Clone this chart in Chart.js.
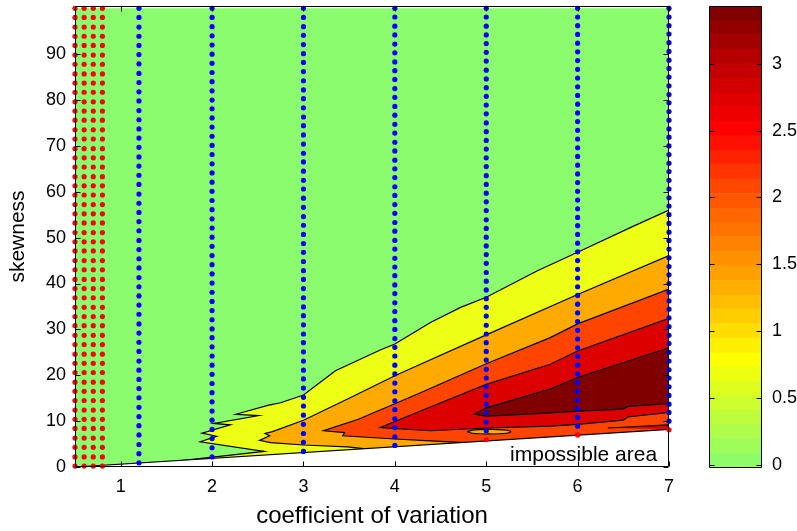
<!DOCTYPE html>
<html>
<head>
<meta charset="utf-8">
<script src="https://cdn.jsdelivr.net/npm/chart.js@4.4.0/dist/chart.umd.min.js"></script>
<style>
  html, body { margin: 0; padding: 0; background: #fff; }
  #wrap { position: relative; width: 797px; height: 531px; overflow: hidden; }
  #main { position: absolute; left: 0; top: 0; }
  #cbar { position: absolute; left: 697px; top: 0; }
</style>
</head>
<body>
<div id="wrap">
  <canvas id="main" width="700" height="531"></canvas>
  <canvas id="cbar" width="100" height="531"></canvas>
</div>
<script>
// Tick labels
const cvTicks = [1, 2, 3, 4, 5, 6, 7];
const skewTicks = [0, 10, 20, 30, 40, 50, 60, 70, 80, 90];
const cbarTicks = [0, 0.5, 1, 1.5, 2, 2.5, 3];

// Contour regions (cv, skewness), each is the area above a level
const level0 = [[0.5, 0], [0.5, 100], [7, 100], [7, 0]];
const level05 = [[7.0, 56.0], [6.6, 52.4], [6.0, 46.8], [5.56, 42.8], [5.0, 37.0], [4.72, 34.8], [4.39, 31.5],
  [4.0, 26.8], [3.84, 25.5], [3.35, 21.0], [3.0, 15.7], [2.75, 14.0], [2.62, 13.5], [2.26, 11.5], [2.51, 11.2],
  [2.02, 9.5], [2.2, 9.2], [1.89, 7.4], [2.05, 6.7], [1.87, 5.5], [2.57, 3.4], [1.62, 1.3], [1.62, 0], [7, 0]];
const level10 = [[7.0, 46.1], [6.0, 37.6], [5.0, 28.8], [4.28, 22.4], [4.0, 19.9], [3.5, 15.0], [3.0, 10.2],
  [2.66, 7.7], [2.58, 7.3], [2.63, 6.8], [2.52, 5.8], [2.64, 5.3], [3.0, 4.8], [3.48, 4.4], [3.65, 4.0],
  [3.65, 0], [7, 0]];
const level15 = [[7.0, 38.8], [6.0, 31.2], [5.7, 28.2], [5.0, 22.5], [4.28, 16.2], [4.0, 13.8], [3.6, 10.4],
  [3.22, 7.9], [3.45, 7.5], [3.43, 6.8], [4.0, 6.1], [4.39, 5.7], [4.75, 5.3], [4.75, 0], [7, 0]];
const level20 = [[7.0, 32.4], [6.0, 25.3], [5.7, 22.4], [5.0, 18.0], [4.28, 12.2], [3.84, 8.6], [4.39, 7.9],
  [5.0, 8.5], [5.7, 8.9], [6.0, 9.3], [6.5, 10.2], [6.55, 10.9], [7.0, 11.9]];
const level20b = [[6.33, 8.5], [7.0, 9.2], [7.0, 8.3]];
const level30 = [[7.0, 26.0], [6.0, 19.5], [5.7, 17.0], [5.0, 12.9], [4.87, 11.5], [5.0, 11.1], [5.6, 11.7],
  [6.0, 12.2], [6.5, 12.6], [6.55, 13.2], [7.0, 13.8]];
const dipLow = [[4.79, 7.7], [4.87, 8.1], [5.03, 8.2], [5.19, 8.1], [5.27, 7.7], [5.19, 7.3], [5.03, 7.2],
  [4.87, 7.3], [4.79, 7.7]];
const impossible = [[0.5, 0], [7, 8.2], [7, 0]];
const boundary = [[0.5, 0], [7, 8.2]];

// Sample points (red = small cv columns, blue = larger cv columns)
const redCols = [0.5, 0.6, 0.7, 0.8];
const skewRed = [0.2, 2.2, 4.3, 6.3, 8.4, 10.4, 12.4, 14.5, 16.5, 18.5, 20.6, 22.6, 24.6, 26.7, 28.7, 30.8, 32.8,
  34.8, 36.9, 38.9, 40.9, 43.0, 45.0, 47.1, 49.1, 51.1, 53.2, 55.2, 57.2, 59.3, 61.3, 63.3, 65.4, 67.4, 69.4,
  71.5, 73.5, 75.6, 77.6, 79.6, 81.7, 83.7, 85.7, 87.8, 89.8, 91.9, 93.9, 95.9, 98.0, 100.0];
const skewAt12 = [0.9, 2.9, 4.9, 7.0, 9.0, 11.0, 13.0, 15.1, 17.1, 19.1, 21.1, 23.1, 25.2, 27.2, 29.2, 31.2,
  33.3, 35.3, 37.3, 39.3, 41.3, 43.4, 45.4, 47.4, 49.4, 51.5, 53.5, 55.5, 57.5, 59.5, 61.6, 63.6, 65.6, 67.6,
  69.7, 71.7, 73.7, 75.7, 77.7, 79.8, 81.8, 83.8, 85.8, 87.9, 89.9, 91.9, 93.9, 95.9, 98.0, 100];
const skewAt2 = [2.2, 4.2, 6.2, 8.2, 10.2, 12.2, 14.2, 16.2, 18.2, 20.2, 22.2, 24.2, 26.2, 28.2, 30.1, 32.1,
  34.1, 36.1, 38.1, 40.1, 42.1, 44.1, 46.1, 48.1, 50.1, 52.1, 54.1, 56.1, 58.1, 60.1, 62.1, 64.1, 66.1, 68.1,
  70.1, 72.1, 74.1, 76.1, 78.1, 80.0, 82.0, 84.0, 86.0, 88.0, 90.0, 92.0, 94.0, 96.0, 98.0, 100];
const skewAt3 = [3.4, 5.4, 7.3, 9.3, 11.3, 13.3, 15.2, 17.2, 19.2, 21.1, 23.1, 25.1, 27.1, 29.0, 31.0, 33.0,
  34.9, 36.9, 38.9, 40.9, 42.8, 44.8, 46.8, 48.7, 50.7, 52.7, 54.6, 56.6, 58.6, 60.6, 62.5, 64.5, 66.5, 68.4,
  70.4, 72.4, 74.4, 76.3, 78.3, 80.3, 82.2, 84.2, 86.2, 88.2, 90.1, 92.1, 94.1, 96.0, 98.0, 100];
const skewAt4 = [4.7, 6.6, 8.6, 10.5, 12.5, 14.4, 16.4, 18.3, 20.3, 22.2, 24.2, 26.1, 28.0, 30.0, 31.9, 33.9,
  35.8, 37.8, 39.7, 41.7, 43.6, 45.5, 47.5, 49.4, 51.4, 53.3, 55.3, 57.2, 59.2, 61.1, 63.1, 65.0, 66.9, 68.9,
  70.8, 72.8, 74.7, 76.7, 78.6, 80.6, 82.5, 84.5, 86.4, 88.3, 90.3, 92.2, 94.2, 96.1, 98.1, 100];
const skewAt5 = [7.9, 9.8, 11.8, 13.7, 15.6, 17.5, 19.4, 21.3, 23.3, 25.2, 27.1, 29.0, 30.9, 32.9, 34.8, 36.7,
  38.6, 40.5, 42.4, 44.4, 46.3, 48.2, 50.1, 52.0, 53.9, 55.9, 57.8, 59.7, 61.6, 63.5, 65.5, 67.4, 69.3, 71.2,
  73.1, 75.0, 77.0, 78.9, 80.8, 82.7, 84.6, 86.5, 88.5, 90.4, 92.3, 94.2, 96.1, 98.1, 100];
const skewAt6 = [8.9, 10.8, 12.7, 14.6, 16.5, 18.4, 20.3, 22.2, 24.1, 26.0, 27.9, 29.8, 31.7, 33.6, 35.5, 37.4,
  39.3, 41.2, 43.1, 45.0, 46.9, 48.8, 50.7, 52.6, 54.4, 56.3, 58.2, 60.1, 62.0, 63.9, 65.8, 67.7, 69.6, 71.5,
  73.4, 75.3, 77.2, 79.1, 81.0, 82.9, 84.8, 86.7, 88.6, 90.5, 92.4, 94.3, 96.2, 98.1, 100];
const skewAt7 = [10.0, 11.9, 13.7, 15.6, 17.5, 19.4, 21.2, 23.1, 25.0, 26.9, 28.7, 30.6, 32.5, 34.4, 36.2, 38.1,
  40.0, 41.9, 43.7, 45.6, 47.5, 49.4, 51.2, 53.1, 55.0, 56.9, 58.7, 60.6, 62.5, 64.4, 66.2, 68.1, 70.0, 71.9,
  73.7, 75.6, 77.5, 79.4, 81.2, 83.1, 85.0, 86.9, 88.7, 90.6, 92.5, 94.4, 96.2, 98.1, 100];
const redBottom = [[5, 6.0], [6, 7.0], [7, 8.1]];

// Colorbar bands
const cbarEdges = [-0.02, 0.09, 0.20, 0.30, 0.41, 0.52, 0.63, 0.74, 0.84, 0.95, 1.06, 1.17, 1.27, 1.38, 1.49,
  1.60, 1.71, 1.81, 1.92, 2.03, 2.14, 2.25, 2.35, 2.46, 2.57, 2.68, 2.78, 2.89, 3.00, 3.11, 3.22, 3.32, 3.43];

// Colours
const GREEN = 'rgb(138,252,110)';
const YELLOW = 'rgb(238,255,22)';
const ORANGE = 'rgb(255,170,0)';
const ORANGERED = 'rgb(255,68,0)';
const RED = 'rgb(221,0,0)';
const DARKRED = 'rgb(128,0,0)';
const cmapStops = [
  [-0.02, [134, 252, 112]], [0.8, [255, 255, 0]], [1.0, [255, 222, 0]], [1.5, [255, 150, 0]],
  [2.0, [255, 85, 0]], [2.5, [255, 0, 0]], [3.0, [190, 0, 0]], [3.43, [120, 0, 0]]
];

const FONT = "'Liberation Sans', Arial, Helvetica, sans-serif";
Chart.defaults.font.family = FONT;
Chart.defaults.color = '#000';

function toXY(points) {
  return points.map(p => ({x: p[0], y: p[1]}));
}

function region(points, color, order, extra) {
  return Object.assign({
    data: toXY(points),
    showLine: true,
    fill: 'shape',
    backgroundColor: color,
    borderColor: '#000',
    borderWidth: 1.2,
    pointRadius: 0,
    pointHoverRadius: 0,
    tension: 0,
    order: order
  }, extra || {});
}

function column(cv, skews) {
  return skews.map(s => ({x: cv, y: s}));
}

function dots(points, color) {
  return {
    data: points,
    showLine: false,
    pointRadius: 2.6,
    pointBorderWidth: 0,
    backgroundColor: color,
    borderColor: color,
    clip: false,
    order: 0
  };
}

let redPoints = [];
redCols.forEach(cv => { redPoints = redPoints.concat(column(cv, skewRed)); });
redPoints = redPoints.concat(toXY(redBottom));
const bluePoints = [].concat(
  column(1.2, skewAt12), column(2, skewAt2), column(3, skewAt3), column(4, skewAt4),
  column(5, skewAt5), column(6, skewAt6), column(7, skewAt7)
);

// Inward ticks and a full box, as in the original figure
function boxTicksPlugin(tickLen) {
  return {
    id: 'boxTicks',
    afterDraw(chart) {
      const {ctx, chartArea: a} = chart;
      const L = Math.round(a.left) + 0.5, R = Math.round(a.right) - 0.5;
      const T = Math.round(a.top) + 0.5, B = Math.round(a.bottom) - 0.5;
      ctx.save();
      ctx.strokeStyle = '#000';
      ctx.lineWidth = 1;
      ctx.beginPath();
      ctx.rect(L, T, R - L, B - T);
      Object.values(chart.scales).forEach(scale => {
        if (!scale.options.display) return;
        scale.ticks.forEach(t => {
          const p = Math.round(scale.getPixelForValue(t.value)) + 0.5;
          if (scale.isHorizontal()) {
            ctx.moveTo(p, B); ctx.lineTo(p, B - tickLen);
            ctx.moveTo(p, T); ctx.lineTo(p, T + tickLen);
          } else {
            ctx.moveTo(L, p); ctx.lineTo(L + tickLen, p);
            ctx.moveTo(R, p); ctx.lineTo(R - tickLen, p);
          }
        });
      });
      ctx.stroke();
      ctx.restore();
    }
  };
}

const areaLabel = {
  id: 'areaLabel',
  afterDatasetsDraw(chart) {
    const {ctx, scales: {x, y}} = chart;
    ctx.save();
    ctx.font = '21px ' + FONT;
    ctx.fillStyle = '#000';
    ctx.textAlign = 'right';
    ctx.textBaseline = 'middle';
    ctx.fillText('impossible area', x.getPixelForValue(6.87), y.getPixelForValue(2.6));
    ctx.restore();
  }
};

// keep the plot box exactly where the figure has it
function fixWidth(w) {
  return s => { s.width = w; s.paddingTop = 0; s.paddingBottom = 0; };
}
function fixHeight(h) {
  return s => { s.height = h; s.paddingLeft = 0; s.paddingRight = 0; };
}

new Chart(document.getElementById('main'), {
  type: 'scatter',
  data: {
    datasets: [
      region(level0, GREEN, 20, {borderWidth: 0}),
      region(level05, YELLOW, 19),
      region(level10, ORANGE, 18),
      region(level15, ORANGERED, 17),
      region(level20, RED, 16),
      region(level20b, RED, 16),
      region(level30, DARKRED, 15),
      region(dipLow, ORANGE, 14, {tension: 0.4}),
      region(impossible, '#fff', 10, {borderWidth: 0}),
      {data: toXY(boundary), showLine: true, fill: false, borderColor: '#000', borderWidth: 1.2,
        pointRadius: 0, order: 9},
      dots(redPoints, '#ff0000'),
      dots(bluePoints, '#0000ff')
    ]
  },
  options: {
    responsive: false,
    animation: false,
    events: [],
    layout: {padding: {left: 0, right: 31, top: 6, bottom: 0}},
    plugins: {legend: {display: false}, tooltip: {enabled: false}},
    scales: {
      x: {
        type: 'linear', min: 0.5, max: 7,
        afterBuildTicks: s => { s.ticks = cvTicks.map(v => ({value: v})); },
        afterFit: fixHeight(64),
        grid: {display: false, drawTicks: false}, border: {display: false},
        ticks: {font: {size: 18}, padding: 9, maxRotation: 0, callback: v => String(v)},
        title: {display: true, text: 'coefficient of variation', font: {size: 24}, padding: {top: 0, bottom: 0}}
      },
      y: {
        type: 'linear', min: 0, max: 100.5,
        afterBuildTicks: s => { s.ticks = skewTicks.map(v => ({value: v})); },
        afterFit: fixWidth(75),
        grid: {display: false, drawTicks: false}, border: {display: false},
        ticks: {font: {size: 18}, padding: 9, callback: v => String(v)},
        title: {display: true, text: 'skewness', font: {size: 21}, padding: {top: 6, bottom: 0}}
      }
    }
  },
  plugins: [areaLabel, boxTicksPlugin(5)]
});

// Colorbar
function cmap(v) {
  for (let i = 1; i < cmapStops.length; i++) {
    if (v <= cmapStops[i][0]) {
      const [v0, c0] = cmapStops[i - 1], [v1, c1] = cmapStops[i];
      const t = (v - v0) / (v1 - v0);
      const c = c0.map((a, k) => Math.round(a + (c1[k] - a) * t));
      return 'rgb(' + c.join(',') + ')';
    }
  }
  return 'rgb(' + cmapStops[cmapStops.length - 1][1].join(',') + ')';
}

const cbarSets = cbarEdges.slice(0, -1).map((lo, i) => ({
  data: [[lo, cbarEdges[i + 1]]],
  backgroundColor: cmap((lo + cbarEdges[i + 1]) / 2),
  borderWidth: 0,
  barPercentage: 1,
  categoryPercentage: 1,
  grouped: false
}));

new Chart(document.getElementById('cbar'), {
  type: 'bar',
  data: {labels: [''], datasets: cbarSets},
  options: {
    responsive: false,
    animation: false,
    events: [],
    layout: {padding: {left: 12, right: 0, top: 6, bottom: 63}},
    plugins: {legend: {display: false}, tooltip: {enabled: false}},
    scales: {
      x: {display: false},
      y: {
        position: 'right', min: -0.02, max: 3.43,
        afterBuildTicks: s => { s.ticks = cbarTicks.map(v => ({value: v})); },
        afterFit: fixWidth(35),
        grid: {display: false, drawTicks: false}, border: {display: false},
        ticks: {font: {size: 18}, padding: 10, callback: v => String(v)}
      }
    }
  },
  plugins: [boxTicksPlugin(5)]
});
</script>
</body>
</html>
